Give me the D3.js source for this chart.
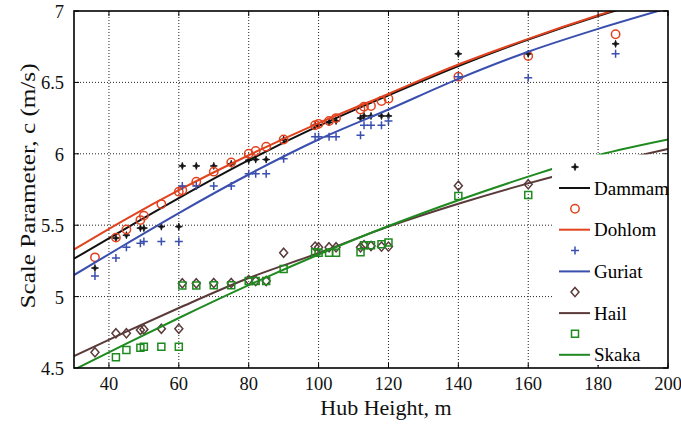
<!DOCTYPE html>
<html>
<head>
<meta charset="utf-8">
<script src="https://cdn.jsdelivr.net/npm/d3@7"></script>
<style>
    body { margin: 0; background: #fff; }
</style>
</head>
<body>
<script>

//Hub heights of the measured points
var heights = [36, 42, 45, 49, 50, 55, 60, 61, 65, 70, 75, 80, 82, 85, 90, 99, 100, 103, 105, 112, 113, 115, 118, 120, 140, 160, 185];
var heightsSkaka = [42, 45, 49, 50, 55, 60, 61, 65, 70, 75, 80, 82, 85, 90, 99, 100, 103, 105, 112, 113, 115, 118, 120, 140, 160];
var heightsHail = [36, 42, 45, 49, 50, 55, 60, 61, 65, 70, 75, 80, 82, 85, 90, 99, 100, 103, 105, 112, 113, 115, 118, 120, 140, 160];

//Scale parameter c (m/s) per site
var dammam = [5.20, 5.41, 5.43, 5.48, 5.48, 5.49, 5.49, 5.915, 5.915, 5.915, 5.93, 5.955, 5.96, 5.96, 6.10, 6.20, 6.20, 6.22, 6.23, 6.25, 6.265, 6.265, 6.265, 6.265, 6.70, 6.70, 6.77];
var dohlom = [5.275, 5.413, 5.47, 5.536, 5.567, 5.648, 5.735, 5.745, 5.805, 5.875, 5.94, 6.0, 6.02, 6.05, 6.10, 6.20, 6.21, 6.23, 6.25, 6.31, 6.33, 6.335, 6.37, 6.386, 6.54, 6.685, 6.837];
var guriat = [5.144, 5.27, 5.345, 5.373, 5.385, 5.385, 5.385, 5.775, 5.775, 5.775, 5.775, 5.86, 5.86, 5.86, 5.965, 6.12, 6.12, 6.12, 6.12, 6.13, 6.20, 6.20, 6.20, 6.23, 6.54, 6.533, 6.70];
var hail = [4.61, 4.743, 4.743, 4.766, 4.77, 4.775, 4.775, 5.093, 5.093, 5.095, 5.095, 5.116, 5.11, 5.11, 5.307, 5.35, 5.345, 5.345, 5.345, 5.345, 5.36, 5.355, 5.35, 5.35, 5.777, 5.786];
var skaka = [4.575, 4.626, 4.642, 4.649, 4.649, 4.649, 5.077, 5.077, 5.08, 5.08, 5.109, 5.11, 5.11, 5.193, 5.31, 5.307, 5.307, 5.307, 5.31, 5.36, 5.36, 5.366, 5.378, 5.704, 5.711];

//Fitted curves at these heights
var fitHeights = [30, 45, 60, 80, 100, 120, 140, 160, 180, 200];
var dammamFit = [5.265, 5.48, 5.69, 5.955, 6.195, 6.41, 6.615, 6.80, 6.965, 7.11];
var dohlomFit = [5.33, 5.545, 5.745, 5.99, 6.215, 6.42, 6.625, 6.805, 6.97, 7.12];
var guriatFit = [5.151, 5.37, 5.585, 5.855, 6.10, 6.31, 6.525, 6.715, 6.875, 7.02];
var hailFit = [4.584, 4.755, 4.92, 5.13, 5.305, 5.49, 5.65, 5.793, 5.92, 6.034];
var skakaFit = [4.488, 4.67, 4.85, 5.08, 5.295, 5.494, 5.675, 5.84, 5.99, 6.10];

var sites = ["Dammam", "Dohlom", "Guriat", "Hail", "Skaka"];
var xTicks = [40, 60, 80, 100, 120, 140, 160, 180, 200];
var yTicks = [4.5, 5, 5.5, 6, 6.5, 7];

var series = [
    {h: heights, c: dammam, fit: dammamFit, color: "#111111", marker: "star"},
    {h: heights, c: dohlom, fit: dohlomFit, color: "#e2431f", marker: "circle"},
    {h: heights, c: guriat, fit: guriatFit, color: "#3a4fae", marker: "plus"},
    {h: heightsHail, c: hail, fit: hailFit, color: "#5b3a3a", marker: "diamond"},
    {h: heightsSkaka, c: skaka, fit: skakaFit, color: "#1f8a1f", marker: "square"}
];

var serif = "'Liberation Serif', 'Times New Roman', 'DejaVu Serif', serif";

var width = 681, height = 429;
var margin = {left: 74, right: 13, top: 11, bottom: 61};
var w = width - margin.left - margin.right;
var h = height - margin.top - margin.bottom;

var x = d3.scaleLinear().domain([30, 200]).range([0, w]);
var y = d3.scaleLinear().domain([4.5, 7]).range([h, 0]);

var svg = d3.select("body").append("svg")
        .attr("width", width)
        .attr("height", height)
        .attr("font-family", serif)
        .append("g")
        .attr("transform", "translate(" + margin.left + "," + margin.top + ")");

svg.append("clipPath").attr("id", "clip")
        .append("rect").attr("width", w).attr("height", h);

//Dotted grid
svg.append("g").selectAll("line.gx")
        .data(xTicks.slice(0, -1))
        .enter().append("line")
        .attr("x1", function(d) { return x(d); })
        .attr("x2", function(d) { return x(d); })
        .attr("y1", 0).attr("y2", h)
        .attr("stroke", "#222").attr("stroke-width", 1)
        .attr("stroke-dasharray", "1,2");

svg.append("g").selectAll("line.gy")
        .data(yTicks.slice(1, -1))
        .enter().append("line")
        .attr("y1", function(d) { return y(d); })
        .attr("y2", function(d) { return y(d); })
        .attr("x1", 0).attr("x2", w)
        .attr("stroke", "#222").attr("stroke-width", 1)
        .attr("stroke-dasharray", "1,2");

//Marker shapes
function markerPath(type) {
    if (type === "star") return "M0,-3.6L0.9,-0.9L3.6,0L0.9,0.9L0,3.6L-0.9,0.9L-3.6,0L-0.9,-0.9Z";
    if (type === "plus") return "M-4,0H4M0,-4V4";
    if (type === "diamond") return "M0,-4.6L4,0L0,4.6L-4,0Z";
    if (type === "square") return "M-3.5,-3.5H3.5V3.5H-3.5Z";
    return d3.symbol().type(d3.symbolCircle).size(55)();
}

function drawMarkers(g, s, pts) {
    g.selectAll("path.m")
            .data(pts)
            .enter().append("path")
            .attr("transform", function(d) { return "translate(" + d[0] + "," + d[1] + ")"; })
            .attr("d", markerPath(s.marker))
            .attr("fill", s.marker === "star" ? s.color : "none")
            .attr("stroke", s.color)
            .attr("stroke-width", s.marker === "star" ? 0.8 : 1.5);
}

var line = d3.line()
        .x(function(d) { return x(d[0]); })
        .y(function(d) { return y(d[1]); })
        .curve(d3.curveMonotoneX);

var plot = svg.append("g").attr("clip-path", "url(#clip)");

series.forEach(function(s) {
    var pts = s.h.map(function(hh, i) { return [x(hh), y(s.c[i])]; });
    drawMarkers(plot.append("g"), s, pts);
    plot.append("path")
            .datum(fitHeights.map(function(hh, i) { return [hh, s.fit[i]]; }))
            .attr("d", line)
            .attr("fill", "none")
            .attr("stroke", s.color)
            .attr("stroke-width", 2);
});

//Ticks inward on all four sides
var tickLen = 5;
var ticks = svg.append("g").attr("stroke", "#000").attr("stroke-width", 1);
xTicks.forEach(function(t) {
    ticks.append("line").attr("x1", x(t)).attr("x2", x(t)).attr("y1", h).attr("y2", h - tickLen);
    ticks.append("line").attr("x1", x(t)).attr("x2", x(t)).attr("y1", 0).attr("y2", tickLen);
});
yTicks.forEach(function(t) {
    ticks.append("line").attr("y1", y(t)).attr("y2", y(t)).attr("x1", 0).attr("x2", tickLen);
    ticks.append("line").attr("y1", y(t)).attr("y2", y(t)).attr("x1", w).attr("x2", w - tickLen);
});

//Legend (white box covering the lower right)
var leg = svg.append("g").attr("transform", "translate(" + (552 - margin.left) + "," + (154.5 - margin.top) + ")");
leg.append("rect").attr("width", 668 - 552).attr("height", 365 - 154.5).attr("fill", "#fff");
series.forEach(function(s, i) {
    var my = 12.5 + i * 41.7, ly = my + 21;
    drawMarkers(leg.append("g"), s, [[23, my]]);
    leg.append("line").attr("x1", 7).attr("x2", 38).attr("y1", ly).attr("y2", ly)
            .attr("stroke", s.color).attr("stroke-width", 2);
    leg.append("text").attr("x", 42).attr("y", ly + 6.5)
            .attr("font-family", serif)
            .style("font-size", "19px").text(sites[i]);
});

//Frame
svg.append("rect").attr("width", w).attr("height", h)
        .attr("fill", "none").attr("stroke", "#000").attr("stroke-width", 1.6);

//Tick labels
svg.append("g").selectAll("text.xt")
        .data(xTicks)
        .enter().append("text")
        .attr("x", function(d) { return x(d); })
        .attr("y", h + 22)
        .attr("text-anchor", "middle")
        .attr("font-family", serif)
        .attr("fill", "#111")
        .style("font-size", "18.5px")
        .text(function(d) { return d; });

svg.append("g").selectAll("text.yt")
        .data(yTicks)
        .enter().append("text")
        .attr("x", -10)
        .attr("y", function(d) { return y(d) + 7; })
        .attr("text-anchor", "end")
        .attr("font-family", serif)
        .attr("fill", "#111")
        .style("font-size", "18.5px")
        .text(function(d) { return d; });

//Axis titles
svg.append("text")
        .attr("x", 386 - margin.left)
        .attr("y", 415 - margin.top)
        .attr("text-anchor", "middle")
        .attr("font-family", serif)
        .attr("fill", "#111")
        .style("font-size", "22px")
        .text("Hub Height, m");

svg.append("text")
        .attr("transform", "translate(" + (35 - margin.left) + "," + (186 - margin.top) + ") rotate(-90)")
        .attr("text-anchor", "middle")
        .attr("font-family", serif)
        .attr("fill", "#111")
        .style("font-size", "22px")
        .attr("textLength", 245)
        .attr("lengthAdjust", "spacingAndGlyphs")
        .text("Scale Parameter, c (m/s)");

</script>
</body>
</html>
